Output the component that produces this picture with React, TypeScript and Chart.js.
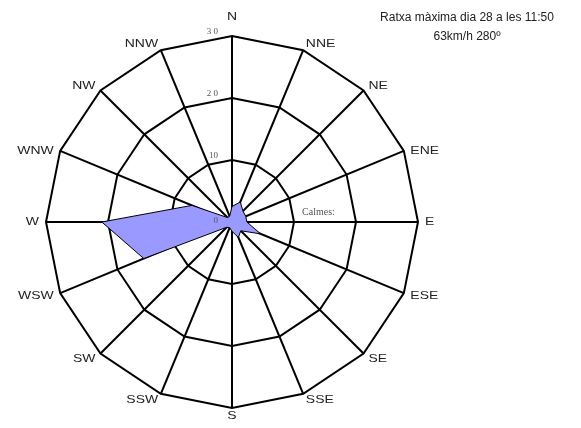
import React, { useEffect, useRef } from "react";
import { Chart, registerables } from "chart.js";

Chart.register(...registerables);

const directions = ["N", "NNE", "NE", "ENE", "E", "ESE", "SE", "SSE", "S", "SSW", "SW", "WSW", "W", "WNW", "NW", "NNW"];
const windValues = [2.5, 3.5, 2.5, 2.4, 2.4, 5, 2, 2.7, 1.5, 1, 1.2, 15.4, 21, 7, 1, 1];
const tickValues = [0, 10, 20, 30];
const tickLabels = ["0", "10", "2 0", "3 0"];
const titleLines = ["Ratxa màxima dia 28 a les 11:50", "63km/h 280º"];
const calmLabel = "Calmes:";

const overlayPlugin = {
  id: "windOverlay",
  afterDraw(chart: any) {
    const ctx = chart.ctx;
    const scale = chart.scales.r;
    const R = scale.drawingArea;
    ctx.save();
    // direction labels
    ctx.font = "11px 'Liberation Sans', Arial, sans-serif";
    ctx.fillStyle = "#222";
    ctx.textBaseline = "middle";
    const sx = 1.27;
    directions.forEach((d, i) => {
      const p = scale.getPointPosition(i, R + 7);
      const ang = (i * 360) / directions.length;
      let align: CanvasTextAlign = "center";
      if (ang > 5 && ang < 175) align = "left";
      else if (ang > 185 && ang < 355) align = "right";
      ctx.textAlign = align;
      let y = p.y;
      if (i === 0) y -= 12;
      if (i === 8) y += 1;
      if (i === 3 || i === 13) y += 3;
      ctx.save();
      ctx.translate(p.x, y);
      ctx.scale(sx, 1);
      ctx.fillText(d, 0, 0);
      ctx.restore();
    });
    // tick labels
    ctx.font = "9px 'Liberation Serif', 'Times New Roman', serif";
    ctx.fillStyle = "#555";
    ctx.textAlign = "right";
    ctx.textBaseline = "bottom";
    tickValues.forEach((v, i) => {
      const dist = scale.getDistanceFromCenterForValue(v);
      const p = scale.getPointPosition(0, dist);
      ctx.fillText(tickLabels[i], p.x - 14, p.y + (i === 0 ? 3 : 0));
    });
    // calm label
    ctx.font = "10px 'Liberation Serif', 'Times New Roman', serif";
    ctx.textAlign = "left";
    ctx.textBaseline = "middle";
    const c = scale.getPointPosition(4, scale.getDistanceFromCenterForValue(11.3));
    ctx.fillText(calmLabel, c.x, c.y - 10);
    // title
    ctx.font = "12px 'Liberation Sans', Arial, sans-serif";
    ctx.fillStyle = "#222";
    ctx.textAlign = "center";
    ctx.fillText(titleLines[0], 467, 18);
    ctx.fillText(titleLines[1], 467, 37);
    ctx.restore();
  },
};

export default function App() {
  const ref = useRef<HTMLCanvasElement>(null);
  useEffect(() => {
    if (!ref.current) return;
    const chart = new Chart(ref.current, {
      type: "radar",
      data: {
        labels: directions,
        datasets: [
          {
            data: windValues,
            backgroundColor: "rgb(153,153,255)",
            borderColor: "#000",
            borderWidth: 1,
            pointRadius: 0,
            fill: true,
          },
        ],
      },
      options: {
        animation: false,
        responsive: false,
        layout: { padding: { left: 46, top: 36, right: 163, bottom: 20 } },
        plugins: { legend: { display: false }, tooltip: { enabled: false } },
        scales: {
          r: {
            min: 0,
            max: 30,
            z: 1,
            ticks: { display: false, stepSize: 10 },
            pointLabels: { display: false },
            grid: { color: "#000", lineWidth: 2, circular: false },
            angleLines: { color: "#000", lineWidth: 2 },
          },
        },
      },
      plugins: [overlayPlugin],
    });
    return () => chart.destroy();
  }, []);
  return (
    <div style={{ position: "absolute", left: 0, top: 0, width: 581, height: 428, background: "#fff" }}>
      <canvas ref={ref} width={581} height={428} />
    </div>
  );
}
